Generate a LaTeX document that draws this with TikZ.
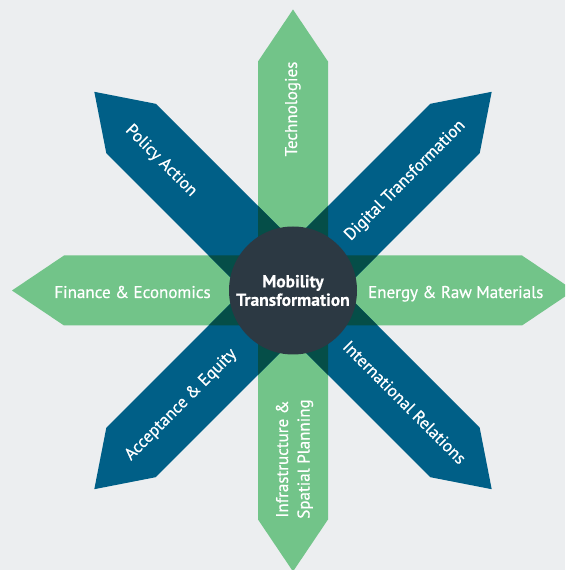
\documentclass[tikz,border=0pt]{standalone}
\usepackage{fontspec}
\setmainfont{PT Sans}
\newfontfamily\lblfont{PT Sans}[FakeBold=0.6]
\newfontfamily\hubfont{PT Sans Bold}[FakeBold=0.3]
\definecolor{bg}{RGB}{236,238,240}
\definecolor{ggreen}{RGB}{114,196,137}
\definecolor{bblue}{RGB}{0,95,135}
\definecolor{ovl}{RGB}{5,78,72}
\definecolor{hubc}{RGB}{44,57,67}
\begin{document}
\begin{tikzpicture}[x=1pt,y=1pt,
  lbl/.style={text=white, font=\lblfont\fontsize{17}{19}\selectfont, inner sep=0pt, text height=12pt, text depth=0pt},
  lbltwo/.style={text=white, font=\lblfont\fontsize{17}{21.5}\selectfont, inner sep=0pt, align=center},
  hublbl/.style={text=white, font=\hubfont\fontsize{17.5}{18.5}\selectfont, align=center},
  greenarrow/.style={fill=ggreen},
  bluearrow/.style={fill=bblue},
  overlap/.style={fill=ovl}]
\useasboundingbox (0,0) rectangle (565,570);
\clip (0,0) rectangle (565,570);
\fill[bg] (0,0) rectangle (565,570);
\begin{scope}[shift={(293,279.5)}]
  \foreach \a in {0,90,180,270}
    \path[greenarrow, rotate=\a] (0,35) -- (229,35) -- (281,0) -- (229,-35) -- (0,-35) -- cycle;
  \foreach \a in {45,135,225,315}
    \path[bluearrow, rotate=\a] (0,35) -- (229,35) -- (281,0) -- (229,-35) -- (0,-35) -- cycle;
  \foreach \g in {0,90,180,270}{
    \foreach \b in {45,135,225,315}{
      \begin{scope}
        \clip[rotate=\g] (0,35) -- (229,35) -- (281,0) -- (229,-35) -- (0,-35) -- cycle;
        \path[overlap, rotate=\b] (0,35) -- (229,35) -- (281,0) -- (229,-35) -- (0,-35) -- cycle;
      \end{scope}
    }
  }
  \node[circle, fill=hubc, minimum size=128pt, inner sep=0pt, hublbl] (hub) at (0,0) {Mobility\\Transformation};
  \node[lbl, rotate=90] (tech) at (-2,181.5) {Technologies};
  \node[lbl] (fin) at (-160.5,-1.5) {Finance \& Economics};
  \node[lbl] (energy) at (162.7,-1.5) {Energy \& Raw Materials};
  \node[lbltwo, rotate=90] (infra) at (1.5,-168.5) {Infrastructure \&\\Spatial Planning};
  \node[lbl, rotate=-45] (policy) at (135:185) {Policy Action};
  \node[lbl, rotate=45] (digital) at (45:157) {Digital Transformation};
  \node[lbl, rotate=-45] (intl) at (-45:158) {International Relations};
  \node[lbl, rotate=45] (accept) at (225:160) {Acceptance \& Equity};
\end{scope}
\end{tikzpicture}
\end{document}
